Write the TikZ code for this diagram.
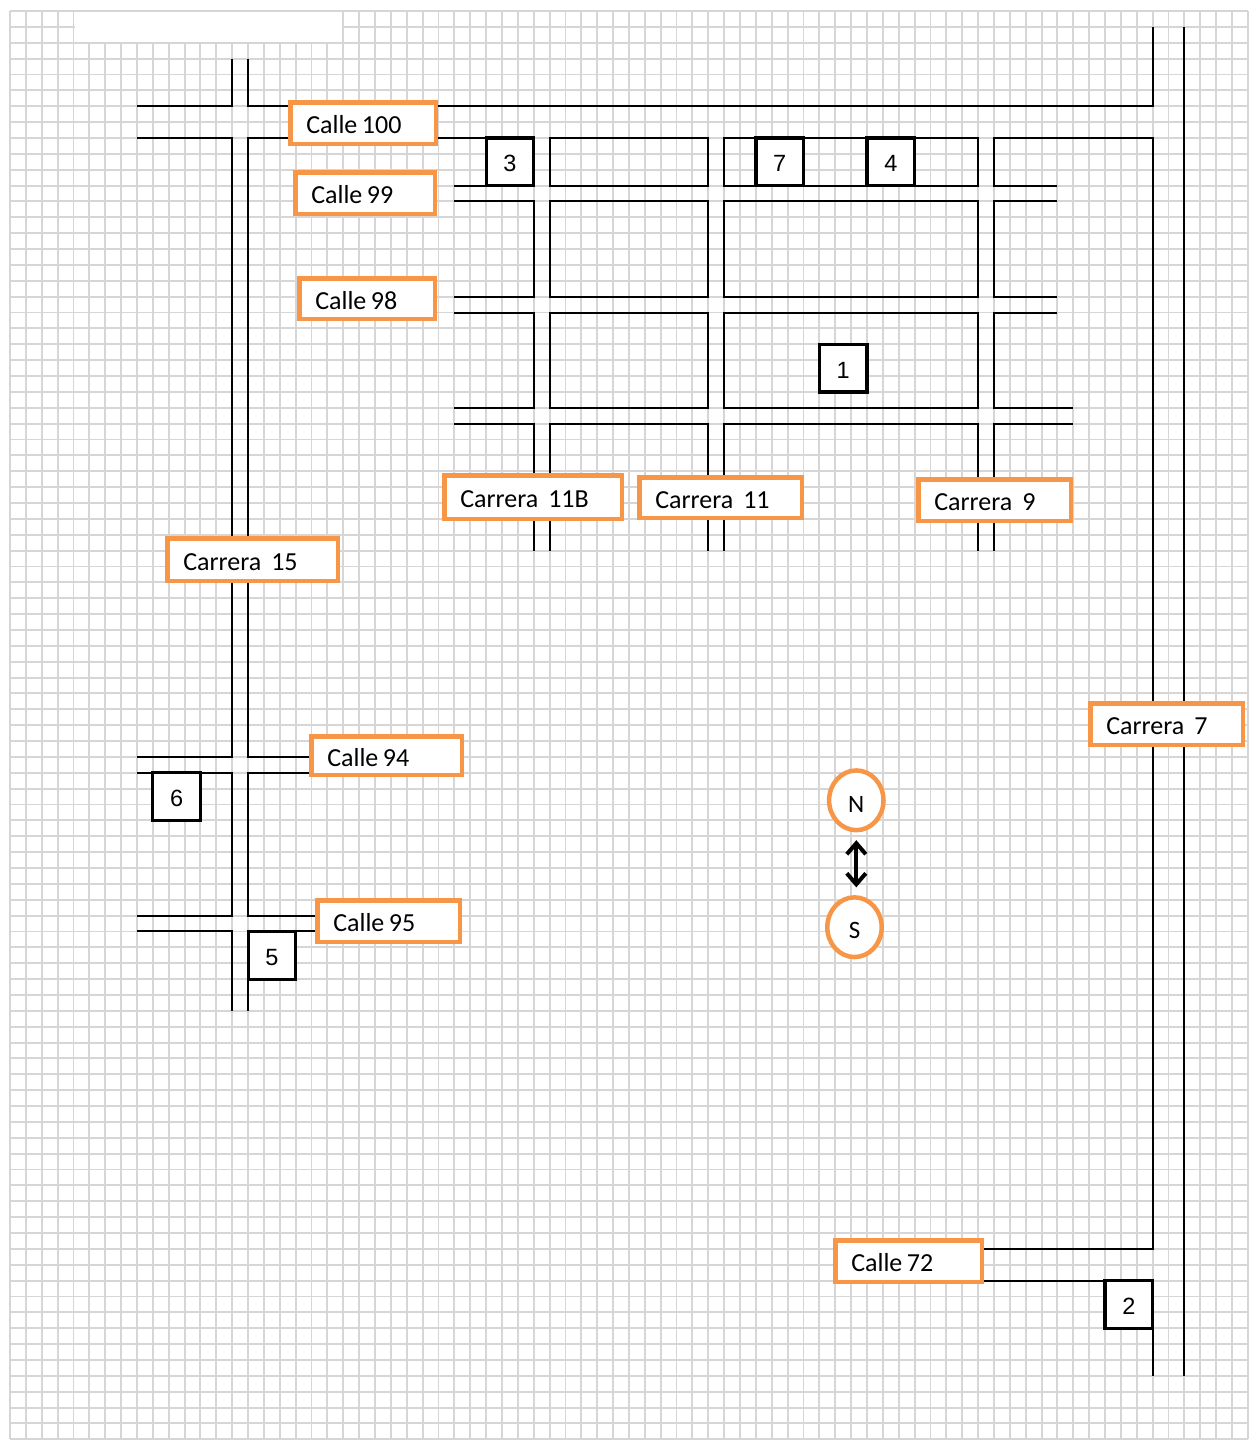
\documentclass[tikz,border=0pt]{standalone}
\usepackage{fontspec}
\setmainfont{Carlito}
\newfontfamily\numfont{Liberation Sans}
\usetikzlibrary{arrows.meta,shapes.geometric}
\definecolor{gridgray}{RGB}{214,214,214}
\definecolor{lorange}{RGB}{247,150,70}
\newcommand\wgap{\hspace{10pt}}
\newcommand\sgap{\hspace{4.5pt}}
\begin{document}
\begin{tikzpicture}[x=1pt,y=-1pt,
  gridline/.style={draw=gridgray,line width=1.9pt},
  road/.style={draw=black,line width=2pt,line join=miter},
  lbl/.style={rectangle,draw=lorange,line width=4.5pt,fill=white,inner xsep=16pt,inner ysep=0pt,
    align=left,text height=21.5pt,text depth=0pt,outer sep=0pt,font=\fontsize{26}{26}\selectfont},
  numbox/.style={rectangle,draw=black,line width=3.2pt,fill=white,minimum size=47.6pt,inner sep=0pt,
    text height=20pt,text depth=0pt,outer sep=0pt,font=\numfont\fontsize{23.5}{23.5}\selectfont},
  compass/.style={ellipse,draw=lorange,line width=4.5pt,fill=white,minimum width=54.4pt,minimum height=59.7pt,
    inner sep=0pt,outer sep=0pt,text height=23.5pt,text depth=0pt,font=\fontsize{25}{25}\selectfont}]
\useasboundingbox (0,0) rectangle (1254,1441);
\fill[white] (0,0) rectangle (1254,1441);
% grid
\foreach \i in {0,...,78} \draw[gridline] ({10+15.87*\i},11) -- ({10+15.87*\i},1439.3);
\foreach \j in {0,...,90} \draw[gridline] (10,{11+15.87*\j}) -- (1247.86,{11+15.87*\j});
\fill[white] (74.5,12) rectangle (342.3,41.8);
% roads
\begin{scope}[every path/.style={road}]
% Carrera 15, west side
\draw (232.18,58.61) -- (232.18,106.22) -- (136.96,106.22);
\draw (136.96,137.96) -- (232.18,137.96) -- (232.18,756.89) -- (136.96,756.89);
\draw (136.96,772.76) -- (232.18,772.76) -- (232.18,915.59) -- (136.96,915.59);
\draw (136.96,931.46) -- (232.18,931.46) -- (232.18,1010.81);
% Carrera 15, east side / Calle 100 north side / Carrera 7
\draw (248.05,58.61) -- (248.05,106.22) -- (1152.64,106.22) -- (1152.64,26.87);
\draw (1184.38,26.87) -- (1184.38,1375.82);
\draw (320,756.89) -- (248.05,756.89) -- (248.05,137.96) -- (533.71,137.96) -- (533.71,185.57) -- (454.36,185.57);
\draw (320,772.76) -- (248.05,772.76) -- (248.05,915.59) -- (330,915.59);
\draw (330,931.46) -- (248.05,931.46) -- (248.05,1010.81);
% row 1
\draw (549.58,137.96) rectangle (708.28,185.57);
\draw (724.15,137.96) rectangle (978.07,185.57);
\draw (1057.42,185.57) -- (993.94,185.57) -- (993.94,137.96) -- (1152.64,137.96) -- (1152.64,1248.86) -- (900,1248.86);
% row 2
\draw (454.36,201.44) -- (533.71,201.44) -- (533.71,296.66) -- (454.36,296.66);
\draw (549.58,201.44) rectangle (708.28,296.66);
\draw (724.15,201.44) rectangle (978.07,296.66);
\draw (1057.42,201.44) -- (993.94,201.44) -- (993.94,296.66) -- (1057.42,296.66);
% row 3
\draw (454.36,312.53) -- (533.71,312.53) -- (533.71,407.75) -- (454.36,407.75);
\draw (549.58,312.53) rectangle (708.28,407.75);
\draw (724.15,312.53) rectangle (978.07,407.75);
\draw (1057.42,312.53) -- (993.94,312.53) -- (993.94,407.75) -- (1073.29,407.75);
% row 4
\draw (454.36,423.62) -- (533.71,423.62) -- (533.71,550.58);
\draw (549.58,550.58) -- (549.58,423.62) -- (708.28,423.62) -- (708.28,550.58);
\draw (724.15,550.58) -- (724.15,423.62) -- (978.07,423.62) -- (978.07,550.58);
\draw (993.94,550.58) -- (993.94,423.62) -- (1073.29,423.62);
% Calle 72
\draw (900,1280.6) -- (1152.64,1280.6) -- (1152.64,1375.82);
\end{scope}
% street labels
\node[lbl,minimum height=41.5pt,text width=113.5pt] (c100) at (363,123) {Calle\sgap 100};
\node[lbl,minimum height=41.5pt,text width=107.5pt] (c99) at (365,193) {Calle\sgap 99};
\node[lbl,minimum height=40.5pt,text width=103.5pt] (c98) at (367,298.5) {Calle\sgap 98};
\node[lbl,minimum height=43.5pt,text width=145.5pt] (k11b) at (533,497) {Carrera\wgap 11B};
\node[lbl,minimum height=40.5pt,text width=130.5pt] (k11) at (720.5,497.5) {Carrera\wgap 11};
\node[lbl,minimum height=41.5pt,text width=120.5pt] (k9) at (994.5,500) {Carrera\wgap 9};
\node[lbl,minimum height=42.5pt,text width=138.5pt] (k15) at (252.5,559.5) {Carrera\wgap 15};
\node[lbl,minimum height=38.5pt,text width=118.5pt] (c94) at (386.5,755.5) {Calle\sgap 94};
\node[lbl,minimum height=41.5pt,text width=110.5pt] (c95) at (388.5,921) {Calle\sgap 95};
\node[lbl,minimum height=41.5pt,text width=114.5pt] (c72) at (908.5,1261) {Calle\sgap 72};
\node[lbl,minimum height=41.5pt,text width=120.5pt] (k7) at (1166.5,724) {Carrera\wgap 7};
% numbered places
\node[numbox] (b3) at (509.9,161.77) {3};
\node[numbox] (b7) at (779.7,161.77) {7};
\node[numbox] (b4) at (890.8,161.77) {4};
\node[numbox] (b1) at (843.2,368.1) {1};
\node[numbox] (b6) at (176.6,796.6) {6};
\node[numbox] (b5) at (271.9,955.3) {5};
\node[numbox] (b2) at (1128.8,1304.4) {2};
% compass
\node[compass] (N) at (856.3,800.3) {N};
\node[compass] (S) at (854.5,927.2) {S};
\draw[line width=4pt,{Straight Barb[length=11pt,width=19pt]}-{Straight Barb[length=11pt,width=19pt]}]
  ([yshift=-10pt]N.south) -- ([yshift=10pt]N.south |- S.north);
\end{tikzpicture}
\end{document}
